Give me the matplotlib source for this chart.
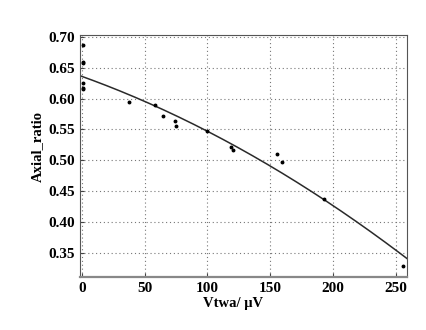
import numpy as np
import matplotlib
matplotlib.use("Agg")
import matplotlib.pyplot as plt

# measured points
vtwa = [1, 1, 1, 1, 1, 1, 38, 58, 65, 74, 75, 100, 119, 120, 155, 159, 193, 256]
axial = [0.686, 0.660, 0.657, 0.625, 0.617, 0.615, 0.594, 0.590, 0.571, 0.563,
         0.556, 0.547, 0.521, 0.517, 0.510, 0.497, 0.437, 0.329]

# quadratic fit curve coefficients (c2, c1, c0)
fit_coef = [-1.58e-6, -7.32e-4, 0.636]

plt.rcParams['font.family'] = ['Liberation Serif', 'DejaVu Serif']
plt.rcParams['font.weight'] = 'bold'

fig = plt.figure(figsize=(4.26, 3.30), dpi=100)
ax = fig.add_axes([0.188, 0.161, 0.767, 0.733])

xs = np.linspace(-1.3, 258.7, 200)
ax.plot(xs, np.polyval(fit_coef, xs), color='#2a2a2a', lw=1.1)
ax.plot(vtwa, axial, 'o', color='black', ms=1.8)

ax.set_xlim(-1.3, 258.7)
ax.set_ylim(0.311, 0.703)
ax.set_xticks([0, 50, 100, 150, 200, 250])
ax.set_yticks([0.35, 0.40, 0.45, 0.50, 0.55, 0.60, 0.65, 0.70])
ax.yaxis.set_major_formatter(matplotlib.ticker.FormatStrFormatter('%.2f'))
ax.grid(True, linestyle=(0, (1, 2.5)), color='#777777', lw=0.8)
ax.tick_params(direction='in', length=3, labelsize=11, color='#444444')
for s in ax.spines.values():
    s.set_color('#555555')
    s.set_linewidth(0.8)
ax.spines['bottom'].set_linewidth(1.6)
ax.spines['bottom'].set_color('#888888')

ax.set_xlabel('Vtwa/ μV', fontsize=10.5, fontweight='bold')
ax.set_ylabel('Axial_ratio', fontsize=10.5, fontweight='bold')
ax.xaxis.set_label_coords(0.468, -0.083)
ax.yaxis.set_label_coords(-0.112, 0.537)

fig.savefig('out.png', dpi=100)
